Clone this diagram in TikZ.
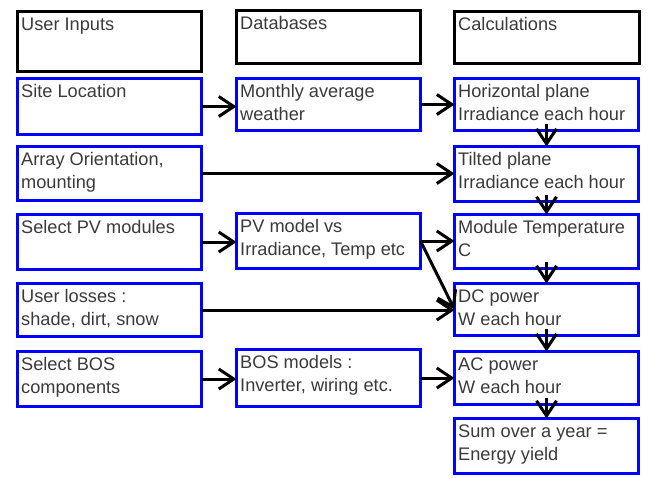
\documentclass[tikz,border=0pt]{standalone}
\usepackage{fontspec}
\setmainfont{Liberation Sans}
\usetikzlibrary{arrows.meta,calc}
\definecolor{txtgray}{HTML}{3A3A3A}
\definecolor{boxblue}{HTML}{0000FF}
\tikzset{
  hdr/.style={draw=black, line width=3pt, rectangle, inner sep=0pt, outer sep=0pt},
  bluebox/.style={draw=boxblue, line width=3pt, rectangle, inner sep=0pt, outer sep=0pt},
  txt/.style={font=\fontsize{18.2}{23}\selectfont, text=txtgray, inner sep=0pt, align=left},
  arr/.style={draw=black, line width=3pt, -{Straight Barb[length=15pt,width=20pt]}}
}
\newcommand\mybox[7]{%
  \node[#2, minimum width={(#5-#3-3)*1pt}, minimum height={(#6-#4-3)*1pt}] (#1) at ({(#3+#5)/2},{(#4+#6)/2}) {};
  \node[txt, anchor=north west] (#1-t) at (#3+5,#4+4.6) {\strut #7};
}
\begin{document}
\begin{tikzpicture}[x=1pt,y=-1pt]
\useasboundingbox (0,0) rectangle (650,477);
\mybox{h1}{hdr}{16}{10}{203}{73}{User Inputs}
\mybox{h2}{hdr}{235}{9}{422}{65}{Databases}
\mybox{h3}{hdr}{453}{10}{641}{65}{Calculations}
\mybox{site}{bluebox}{16}{77}{203}{136}{Site Location}
\mybox{orient}{bluebox}{16}{145}{203}{202}{Array Orientation,\\mounting}
\mybox{selpv}{bluebox}{16}{213}{203}{271}{Select PV modules}
\mybox{loss}{bluebox}{16}{282}{203}{338}{User losses :\\shade, dirt, snow}
\mybox{selbos}{bluebox}{16}{350}{203}{408}{Select BOS\\components}
\mybox{weather}{bluebox}{235}{77}{422}{132}{Monthly average\\weather}
\mybox{pvm}{bluebox}{235}{212}{422}{270}{PV model vs\\Irradiance, Temp etc}
\mybox{bosm}{bluebox}{235}{348}{422}{408}{BOS models :\\Inverter, wiring etc.}
\mybox{hor}{bluebox}{453}{77}{640}{132}{Horizontal plane\\Irradiance each hour}
\mybox{tilt}{bluebox}{453}{145}{640}{203}{Tilted plane\\Irradiance each hour}
\mybox{temp}{bluebox}{453}{213}{640}{270}{Module Temperature\\C}
\mybox{dc}{bluebox}{453}{282}{640}{337}{DC power\\W each hour}
\mybox{ac}{bluebox}{453}{350}{640}{406}{AC power\\W each hour}
\mybox{sum}{bluebox}{453}{417}{640}{475}{Sum over a year =\\Energy yield}
% horizontal connectors
\draw[arr] (site.east) -- (site.east -| weather.west);
\draw[arr] (weather.east) -- (weather.east -| hor.west);
\draw[arr] (orient.east) -- (orient.east -| tilt.west);
\draw[arr] (selpv.east) -- (selpv.east -| pvm.west);
\draw[arr] (pvm.east) -- (pvm.east -| temp.west);
\draw[arr] (pvm.east) -- (dc.west);
\draw[arr] (loss.east) -- (loss.east -| dc.west);
\draw[arr] (selbos.east) -- (selbos.east -| bosm.west);
\draw[arr] (bosm.east) -- (bosm.east -| ac.west);
% vertical connectors
\draw[arr] ([yshift=7pt]hor.south) -- (tilt.north);
\draw[arr] ([yshift=7pt]tilt.south) -- (temp.north);
\draw[arr] ([yshift=7pt]temp.south) -- (dc.north);
\draw[arr] ([yshift=7pt]dc.south) -- (ac.north);
\draw[arr] ([yshift=7pt]ac.south) -- (sum.north);
\end{tikzpicture}
\end{document}
